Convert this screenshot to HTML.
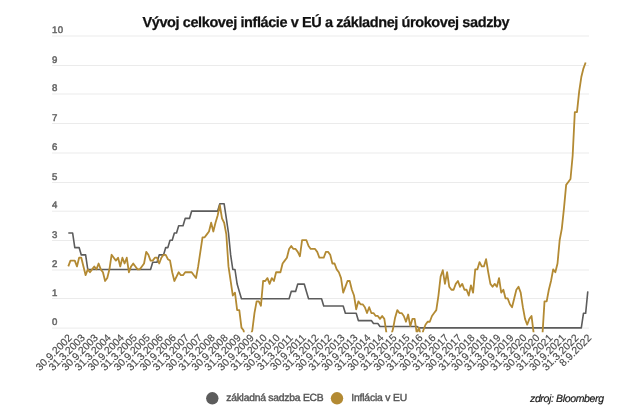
<!DOCTYPE html>
<html><head><meta charset="utf-8"><style>
html,body{margin:0;padding:0;background:#fff;}
body{width:620px;height:416px;overflow:hidden;position:relative;}
svg{position:absolute;left:0;top:0;will-change:transform;}
text{font-family:"Liberation Sans",sans-serif;text-rendering:geometricPrecision;}
.title{font-size:14.5px;font-weight:bold;fill:#111;stroke:#111;stroke-width:0.25px;}
.yl{font-size:9.6px;fill:#666;stroke:#666;stroke-width:0.5px;letter-spacing:0.5px;}
.xl{font-size:10.4px;fill:#4a4a4a;stroke:#4a4a4a;stroke-width:0.15px;}
.lg{font-size:10.3px;fill:#555;stroke:#555;stroke-width:0.4px;}
.src{font-size:10.5px;font-style:italic;fill:#1a1a1a;stroke:#1a1a1a;stroke-width:0.2px;}
</style></head><body>
<svg width="620" height="416" viewBox="0 0 620 416">
<defs><clipPath id="c"><rect x="52" y="0" width="540" height="332.3"/></clipPath></defs>
<line x1="52" x2="589" y1="328.10" y2="328.10" stroke="#ebebeb" stroke-width="1"/><line x1="52" x2="589" y1="298.50" y2="298.50" stroke="#ebebeb" stroke-width="1"/><line x1="52" x2="589" y1="270.00" y2="270.00" stroke="#ebebeb" stroke-width="1"/><line x1="52" x2="589" y1="240.50" y2="240.50" stroke="#ebebeb" stroke-width="1"/><line x1="52" x2="589" y1="211.20" y2="211.20" stroke="#ebebeb" stroke-width="1"/><line x1="52" x2="589" y1="182.50" y2="182.50" stroke="#ebebeb" stroke-width="1"/><line x1="52" x2="589" y1="153.00" y2="153.00" stroke="#ebebeb" stroke-width="1"/><line x1="52" x2="589" y1="123.50" y2="123.50" stroke="#ebebeb" stroke-width="1"/><line x1="52" x2="589" y1="94.00" y2="94.00" stroke="#ebebeb" stroke-width="1"/><line x1="52" x2="589" y1="65.50" y2="65.50" stroke="#ebebeb" stroke-width="1"/><line x1="52" x2="589" y1="36.00" y2="36.00" stroke="#ebebeb" stroke-width="1"/>
<text class="title" x="326" y="26.8" text-anchor="middle" textLength="367" lengthAdjust="spacing">Vývoj celkovej inflácie v EÚ a základnej úrokovej sadzby</text>
<text x="52" y="325.35" class="yl">0</text><text x="52" y="295.75" class="yl">1</text><text x="52" y="267.25" class="yl">2</text><text x="52" y="237.75" class="yl">3</text><text x="52" y="208.45" class="yl">4</text><text x="52" y="179.75" class="yl">5</text><text x="52" y="150.25" class="yl">6</text><text x="52" y="120.75" class="yl">7</text><text x="52" y="91.25" class="yl">8</text><text x="52" y="62.75" class="yl">9</text><text x="52" y="33.25" class="yl">10</text>
<g clip-path="url(#c)" fill="none" stroke-linejoin="round" stroke-linecap="butt">
<path d="M68.30 233.00 L70.46 233.00 L72.63 233.00 L74.79 247.60 L76.96 247.60 L79.12 247.60 L81.29 254.90 L83.45 254.90 L85.62 254.90 L87.78 269.50 L89.95 269.50 L92.11 269.50 L94.28 269.50 L96.44 269.50 L98.60 269.50 L100.77 269.50 L102.93 269.50 L105.10 269.50 L107.26 269.50 L109.43 269.50 L111.59 269.50 L113.76 269.50 L115.92 269.50 L118.09 269.50 L120.25 269.50 L122.41 269.50 L124.58 269.50 L126.74 269.50 L128.91 269.50 L131.07 269.50 L133.24 269.50 L135.40 269.50 L137.57 269.50 L139.73 269.50 L141.90 269.50 L144.06 269.50 L146.23 269.50 L148.39 269.50 L150.55 269.50 L152.72 262.20 L154.88 262.20 L157.05 262.20 L159.21 254.90 L161.38 254.90 L163.54 254.90 L165.71 247.60 L167.87 247.60 L170.04 240.30 L172.20 240.30 L174.37 233.00 L176.53 233.00 L178.69 225.70 L180.86 225.70 L183.02 225.70 L185.19 218.40 L187.35 218.40 L189.52 218.40 L191.68 211.10 L193.85 211.10 L196.01 211.10 L198.18 211.10 L200.34 211.10 L202.51 211.10 L204.67 211.10 L206.83 211.10 L209.00 211.10 L211.16 211.10 L213.33 211.10 L215.49 211.10 L217.66 211.10 L219.82 203.80 L221.99 203.80 L224.15 203.80 L226.32 218.40 L228.48 233.00 L230.64 254.90 L232.81 269.50 L234.97 269.50 L237.14 284.10 L239.30 291.40 L241.47 298.70 L243.63 298.70 L245.80 298.70 L247.96 298.70 L250.13 298.70 L252.29 298.70 L254.46 298.70 L256.62 298.70 L258.78 298.70 L260.95 298.70 L263.11 298.70 L265.28 298.70 L267.44 298.70 L269.61 298.70 L271.77 298.70 L273.94 298.70 L276.10 298.70 L278.27 298.70 L280.43 298.70 L282.60 298.70 L284.76 298.70 L286.92 298.70 L289.09 298.70 L291.25 291.40 L293.42 291.40 L295.58 291.40 L297.75 284.10 L299.91 284.10 L302.08 284.10 L304.24 284.10 L306.41 291.40 L308.57 298.70 L310.74 298.70 L312.90 298.70 L315.06 298.70 L317.23 298.70 L319.39 298.70 L321.56 298.70 L323.72 306.00 L325.89 306.00 L328.05 306.00 L330.22 306.00 L332.38 306.00 L334.55 306.00 L336.71 306.00 L338.88 306.00 L341.04 306.00 L343.20 306.00 L345.37 313.30 L347.53 313.30 L349.70 313.30 L351.86 313.30 L354.03 313.30 L356.19 313.30 L358.36 320.60 L360.52 320.60 L362.69 320.60 L364.85 320.60 L367.01 320.60 L369.18 320.60 L371.34 320.60 L373.51 323.52 L375.67 323.52 L377.84 323.52 L380.00 326.44 L382.17 326.44 L384.33 326.44 L386.50 326.44 L388.66 326.44 L390.83 326.44 L392.99 326.44 L395.15 326.44 L397.32 326.44 L399.48 326.44 L401.65 326.44 L403.81 326.44 L405.98 326.44 L408.14 326.44 L410.31 326.44 L412.47 326.44 L414.64 326.44 L416.80 326.44 L418.97 327.90 L421.13 327.90 L423.29 327.90 L425.46 327.90 L427.62 327.90 L429.79 327.90 L431.95 327.90 L434.12 327.90 L436.28 327.90 L438.45 327.90 L440.61 327.90 L442.78 327.90 L444.94 327.90 L447.11 327.90 L449.27 327.90 L451.43 327.90 L453.60 327.90 L455.76 327.90 L457.93 327.90 L460.09 327.90 L462.26 327.90 L464.42 327.90 L466.59 327.90 L468.75 327.90 L470.92 327.90 L473.08 327.90 L475.24 327.90 L477.41 327.90 L479.57 327.90 L481.74 327.90 L483.90 327.90 L486.07 327.90 L488.23 327.90 L490.40 327.90 L492.56 327.90 L494.73 327.90 L496.89 327.90 L499.06 327.90 L501.22 327.90 L503.38 327.90 L505.55 327.90 L507.71 327.90 L509.88 327.90 L512.04 327.90 L514.21 327.90 L516.37 327.90 L518.54 327.90 L520.70 327.90 L522.87 327.90 L525.03 327.90 L527.20 327.90 L529.36 327.90 L531.52 327.90 L533.69 327.90 L535.85 327.90 L538.02 327.90 L540.18 327.90 L542.35 327.90 L544.51 327.90 L546.68 327.90 L548.84 327.90 L551.01 327.90 L553.17 327.90 L555.34 327.90 L557.50 327.90 L559.66 327.90 L561.83 327.90 L563.99 327.90 L566.16 327.90 L568.32 327.90 L570.49 327.90 L572.65 327.90 L574.82 327.90 L576.98 327.90 L579.15 327.90 L581.31 327.90 L583.47 313.30 L585.64 313.30 L587.80 291.40" stroke="#5c5c5c" stroke-width="1.6"/>
<path d="M68.30 266.43 L70.46 260.60 L72.63 260.60 L74.79 260.60 L76.96 266.43 L79.12 257.69 L81.29 257.69 L83.45 266.43 L85.62 275.17 L87.78 269.34 L89.95 272.25 L92.11 269.34 L94.28 266.43 L96.44 269.34 L98.60 263.51 L100.77 269.34 L102.93 272.25 L105.10 280.99 L107.26 278.08 L109.43 269.34 L111.59 254.78 L113.76 257.69 L115.92 260.60 L118.09 257.69 L120.25 266.43 L122.41 257.69 L124.58 263.51 L126.74 257.69 L128.91 272.25 L131.07 266.43 L133.24 263.51 L135.40 266.43 L137.57 269.34 L139.73 269.34 L141.90 266.43 L144.06 263.51 L146.23 251.86 L148.39 254.78 L150.55 260.60 L152.72 260.60 L154.88 257.69 L157.05 257.69 L159.21 263.51 L161.38 257.69 L163.54 254.78 L165.71 254.78 L167.87 259.14 L170.04 260.60 L172.20 272.25 L174.37 280.99 L176.53 276.62 L178.69 272.25 L180.86 275.17 L183.02 275.17 L185.19 272.25 L187.35 272.25 L189.52 272.25 L191.68 272.25 L193.85 275.17 L196.01 278.08 L198.18 266.43 L200.34 251.86 L202.51 237.30 L204.67 237.30 L206.83 234.38 L209.00 231.47 L211.16 222.73 L213.33 231.47 L215.49 222.73 L217.66 215.45 L219.82 205.25 L221.99 218.36 L224.15 222.73 L226.32 234.38 L228.48 266.43 L230.64 280.99 L232.81 295.56 L234.97 292.64 L237.14 310.12 L239.30 310.12 L241.47 327.60 L243.63 330.51 L245.80 345.08 L247.96 333.43 L250.13 336.34 L252.29 330.51 L254.46 313.04 L256.62 301.38 L258.78 301.38 L260.95 305.75 L263.11 280.99 L265.28 280.99 L267.44 278.08 L269.61 283.91 L271.77 278.08 L273.94 280.99 L276.10 272.25 L278.27 272.25 L280.43 272.25 L282.60 263.51 L284.76 260.60 L286.92 257.69 L289.09 248.95 L291.25 246.04 L293.42 248.95 L295.58 248.95 L297.75 251.86 L299.91 256.23 L302.08 240.21 L304.24 240.21 L306.41 240.21 L308.57 246.04 L310.74 248.95 L312.90 248.95 L315.06 248.95 L317.23 251.86 L319.39 257.69 L321.56 257.69 L323.72 257.69 L325.89 251.86 L328.05 251.86 L330.22 254.78 L332.38 263.51 L334.55 263.51 L336.71 269.34 L338.88 272.25 L341.04 278.08 L343.20 292.64 L345.37 286.82 L347.53 280.99 L349.70 280.99 L351.86 289.73 L354.03 295.56 L356.19 309.25 L358.36 301.38 L360.52 304.30 L362.69 304.30 L364.85 307.21 L367.01 313.04 L369.18 307.21 L371.34 313.04 L373.51 313.04 L375.67 315.95 L377.84 315.95 L380.00 318.86 L382.17 315.95 L384.33 318.86 L386.50 333.43 L388.66 345.08 L390.83 336.34 L392.99 329.06 L395.15 317.40 L397.32 310.12 L399.48 313.04 L401.65 313.04 L403.81 315.95 L405.98 321.77 L408.14 314.49 L410.31 326.14 L412.47 318.86 L414.64 318.86 L416.80 333.43 L418.97 327.60 L421.13 337.80 L423.29 330.51 L425.46 324.69 L427.62 321.77 L429.79 321.77 L431.95 315.95 L434.12 313.04 L436.28 310.12 L438.45 295.56 L440.61 276.62 L442.78 270.21 L444.94 283.91 L447.11 272.25 L449.27 286.82 L451.43 289.73 L453.60 289.73 L455.76 283.91 L457.93 280.99 L460.09 286.82 L462.26 283.91 L464.42 289.73 L466.59 289.73 L468.75 295.56 L470.92 285.36 L473.08 292.64 L475.24 269.34 L477.41 269.34 L479.57 262.06 L481.74 266.43 L483.90 266.43 L486.07 259.14 L488.23 272.25 L490.40 283.91 L492.56 286.82 L494.73 283.91 L496.89 286.82 L499.06 278.08 L501.22 292.64 L503.38 289.73 L505.55 298.47 L507.71 298.47 L509.88 304.30 L512.04 307.21 L514.21 298.47 L516.37 289.73 L518.54 286.82 L520.70 292.64 L522.87 307.21 L525.03 318.86 L527.20 324.69 L529.36 318.86 L531.52 315.95 L533.69 333.43 L535.85 336.34 L538.02 336.34 L540.18 336.34 L542.35 336.34 L544.51 301.38 L546.68 301.38 L548.84 289.73 L551.01 280.99 L553.17 269.34 L555.34 272.25 L557.50 263.51 L559.66 240.21 L561.83 228.56 L563.99 208.17 L566.16 184.86 L568.32 181.95 L570.49 179.04 L572.65 155.73 L574.82 112.04 L576.98 112.04 L579.15 91.65 L581.31 77.08 L583.47 68.34 L585.64 62.52" stroke="#b38a33" stroke-width="1.8"/>
</g>
<text class="xl" transform="translate(72.70,338.50) rotate(-45)" text-anchor="end">30.9.2002</text><text class="xl" transform="translate(85.69,338.50) rotate(-45)" text-anchor="end">31.3.2003</text><text class="xl" transform="translate(98.68,338.50) rotate(-45)" text-anchor="end">30.9.2003</text><text class="xl" transform="translate(111.66,338.50) rotate(-45)" text-anchor="end">31.3.2004</text><text class="xl" transform="translate(124.65,338.50) rotate(-45)" text-anchor="end">30.9.2004</text><text class="xl" transform="translate(137.64,338.50) rotate(-45)" text-anchor="end">31.3.2005</text><text class="xl" transform="translate(150.63,338.50) rotate(-45)" text-anchor="end">30.9.2005</text><text class="xl" transform="translate(163.61,338.50) rotate(-45)" text-anchor="end">31.3.2006</text><text class="xl" transform="translate(176.60,338.50) rotate(-45)" text-anchor="end">30.9.2006</text><text class="xl" transform="translate(189.59,338.50) rotate(-45)" text-anchor="end">31.3.2007</text><text class="xl" transform="translate(202.58,338.50) rotate(-45)" text-anchor="end">30.9.2007</text><text class="xl" transform="translate(215.56,338.50) rotate(-45)" text-anchor="end">31.3.2008</text><text class="xl" transform="translate(228.55,338.50) rotate(-45)" text-anchor="end">30.9.2008</text><text class="xl" transform="translate(241.54,338.50) rotate(-45)" text-anchor="end">31.3.2009</text><text class="xl" transform="translate(254.53,338.50) rotate(-45)" text-anchor="end">30.9.2009</text><text class="xl" transform="translate(267.51,338.50) rotate(-45)" text-anchor="end">31.3.2010</text><text class="xl" transform="translate(280.50,338.50) rotate(-45)" text-anchor="end">30.9.2010</text><text class="xl" transform="translate(293.49,338.50) rotate(-45)" text-anchor="end">31.3.2011</text><text class="xl" transform="translate(306.48,338.50) rotate(-45)" text-anchor="end">30.9.2011</text><text class="xl" transform="translate(319.46,338.50) rotate(-45)" text-anchor="end">31.3.2012</text><text class="xl" transform="translate(332.45,338.50) rotate(-45)" text-anchor="end">30.9.2012</text><text class="xl" transform="translate(345.44,338.50) rotate(-45)" text-anchor="end">31.3.2013</text><text class="xl" transform="translate(358.43,338.50) rotate(-45)" text-anchor="end">30.9.2013</text><text class="xl" transform="translate(371.41,338.50) rotate(-45)" text-anchor="end">31.3.2014</text><text class="xl" transform="translate(384.40,338.50) rotate(-45)" text-anchor="end">30.9.2014</text><text class="xl" transform="translate(397.39,338.50) rotate(-45)" text-anchor="end">31.3.2015</text><text class="xl" transform="translate(410.38,338.50) rotate(-45)" text-anchor="end">30.9.2015</text><text class="xl" transform="translate(423.37,338.50) rotate(-45)" text-anchor="end">31.3.2016</text><text class="xl" transform="translate(436.35,338.50) rotate(-45)" text-anchor="end">30.9.2016</text><text class="xl" transform="translate(449.34,338.50) rotate(-45)" text-anchor="end">31.3.2017</text><text class="xl" transform="translate(462.33,338.50) rotate(-45)" text-anchor="end">30.9.2017</text><text class="xl" transform="translate(475.32,338.50) rotate(-45)" text-anchor="end">31.3.2018</text><text class="xl" transform="translate(488.30,338.50) rotate(-45)" text-anchor="end">30.9.2018</text><text class="xl" transform="translate(501.29,338.50) rotate(-45)" text-anchor="end">31.3.2019</text><text class="xl" transform="translate(514.28,338.50) rotate(-45)" text-anchor="end">30.9.2019</text><text class="xl" transform="translate(527.27,338.50) rotate(-45)" text-anchor="end">31.3.2020</text><text class="xl" transform="translate(540.25,338.50) rotate(-45)" text-anchor="end">30.9.2020</text><text class="xl" transform="translate(553.24,338.50) rotate(-45)" text-anchor="end">31.3.2021</text><text class="xl" transform="translate(566.23,338.50) rotate(-45)" text-anchor="end">30.9.2021</text><text class="xl" transform="translate(579.22,338.50) rotate(-45)" text-anchor="end">31.3.2022</text><text class="xl" transform="translate(592.20,338.50) rotate(-45)" text-anchor="end">8.9.2022</text>
<circle cx="212.3" cy="398.3" r="6.2" fill="#5c5c5c"/>
<text class="lg" x="226.2" y="401.1" textLength="97.5" lengthAdjust="spacing">základná sadzba ECB</text>
<circle cx="337" cy="398.3" r="6.2" fill="#b38a33"/>
<text class="lg" x="351.3" y="401.1" textLength="55.8" lengthAdjust="spacing">Inflácia v EU</text>
<text class="src" x="530" y="402" textLength="74" lengthAdjust="spacing">zdroj: Bloomberg</text>
</svg>
</body></html>
